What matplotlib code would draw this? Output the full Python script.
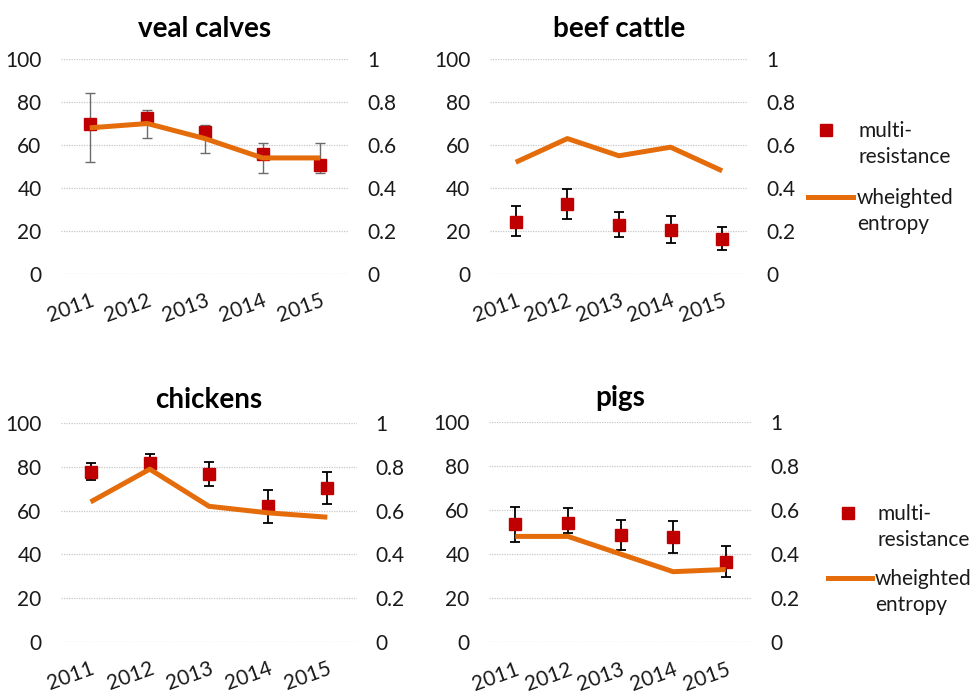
import matplotlib.pyplot as plt
from matplotlib.lines import Line2D

plt.rcParams['font.family'] = ['Lato', 'DejaVu Sans']

years = ["2011", "2012", "2013", "2014", "2015"]

# multi-resistance (%) with lower / upper bounds
veal_mr = [70, 72.7, 66.2, 56, 50.7]
veal_lo = [52, 63.4, 56.1, 46.8, 46.8]
veal_hi = [84, 76.4, 69.3, 61, 61]
veal_ent = [0.68, 0.70, 0.63, 0.54, 0.54]

beef_mr = [24.3, 32.4, 22.8, 20.5, 16.1]
beef_lo = [17.8, 25.4, 17.2, 14.4, 11.3]
beef_hi = [31.5, 39.5, 28.7, 27.1, 22]
beef_ent = [0.52, 0.63, 0.55, 0.59, 0.48]

chick_mr = [77.8, 81.7, 76.6, 62.1, 70.2]
chick_lo = [74, 78, 71.4, 54.2, 63]
chick_hi = [82, 85.8, 82.4, 69.6, 77.7]
chick_ent = [0.64, 0.79, 0.62, 0.59, 0.57]

pig_mr = [53.6, 54.2, 48.5, 47.9, 36.5]
pig_lo = [45.6, 49.4, 41.8, 40.6, 29.6]
pig_hi = [61.3, 60.7, 55.4, 55.1, 43.8]
pig_ent = [0.48, 0.48, 0.40, 0.32, 0.33]

legend_labels = ["multi-\nresistance", "wheighted\nentropy"]

red = "#C00000"
orange = "#E46C0A"
W, H = 971, 693

fig = plt.figure(figsize=(W / 100, H / 100), dpi=100)

panels = [
    ("veal calves", veal_mr, veal_lo, veal_hi, veal_ent, [0.0628, 0.6046, 0.2966, 0.3102], "#6b6b6b", 1.0, 16),
    ("beef cattle", beef_mr, beef_lo, beef_hi, beef_ent, [0.5046, 0.6046, 0.2657, 0.3102], "black", 1.3, 16),
    ("chickens", chick_mr, chick_lo, chick_hi, chick_ent, [0.0628, 0.0740, 0.3048, 0.3152], "black", 1.3, 11),
    ("pigs", pig_mr, pig_lo, pig_hi, pig_ent, [0.5036, 0.0732, 0.2709, 0.3183], "black", 1.3, 11),
]

x = list(range(len(years)))
tick_fs = 15

for title, mr, lo, hi, ent, pos, ecol, elw, tpad in panels:
    ax = fig.add_axes(pos)
    err = [[m - l for m, l in zip(mr, lo)], [h - m for m, h in zip(mr, hi)]]
    ax.errorbar(x, mr, yerr=err, fmt='none', ecolor=ecol, elinewidth=elw,
                capsize=3.5, capthick=elw, zorder=2)
    ax.plot(x, mr, 's', color=red, markersize=8.6, zorder=3)
    ax.set_xlim(-0.5, 4.5)
    ax.set_ylim(0, 100)
    ax.set_yticks([0, 20, 40, 60, 80, 100])
    ax.set_xticks(x)
    ax.set_xticklabels(years, rotation=20, ha='right', va='top', rotation_mode='anchor')
    ax.grid(axis='y', color='#c8c8c8', linestyle=(0, (1, 1)), linewidth=0.9)
    ax.set_axisbelow(True)
    ax.tick_params(axis='y', length=0, pad=14, labelsize=tick_fs, colors='#1a1a1a')
    ax.tick_params(axis='x', length=0, pad=12, labelsize=tick_fs, colors='#1a1a1a')
    for s in ax.spines.values():
        s.set_visible(False)
    ax.set_title(title, fontsize=20, fontweight='bold', pad=tpad)

    ax2 = ax.twinx()
    ax2.plot(x, ent, color=orange, linewidth=3.6, solid_capstyle='butt', zorder=4)
    ax2.set_ylim(0, 1)
    ax2.set_yticks([0, 0.2, 0.4, 0.6, 0.8, 1])
    ax2.set_yticklabels(["0", "0.2", "0.4", "0.6", "0.8", "1"])
    ax2.tick_params(axis='y', length=0, pad=13, labelsize=tick_fs, colors='#1a1a1a')
    for s in ax2.spines.values():
        s.set_visible(False)


# legend keys: handle sits level with the first line of each label
def draw_legend(mx, my, mtx, lx0, lx1, ly, ltx):
    fig.add_artist(Line2D([mx / W], [1 - my / H], marker='s', linestyle='none',
                          color=red, markersize=8.6, transform=fig.transFigure))
    fig.text(mtx / W, 1 - (my - 9) / H, legend_labels[0], fontsize=tick_fs,
             va='top', ha='left', linespacing=1.4, color='#1a1a1a')
    fig.add_artist(Line2D([lx0 / W, lx1 / W], [1 - ly / H, 1 - ly / H],
                          color=orange, linewidth=3.6, transform=fig.transFigure))
    fig.text(ltx / W, 1 - (ly - 9) / H, legend_labels[1], fontsize=tick_fs,
             va='top', ha='left', linespacing=1.4, color='#1a1a1a')


draw_legend(826, 130, 858, 808, 853, 197, 857)
draw_legend(848, 513, 877, 828, 872, 578, 875)

fig.savefig("out.png", dpi=100)
